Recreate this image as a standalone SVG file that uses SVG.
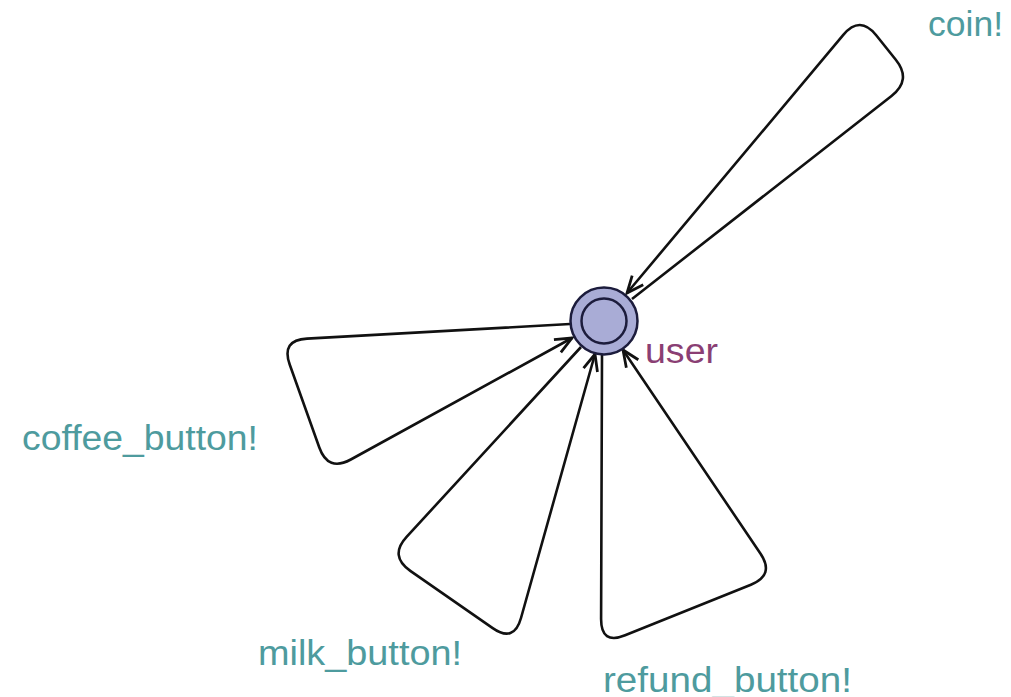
<svg xmlns="http://www.w3.org/2000/svg" width="1011" height="697" viewBox="0 0 1011 697">
<style>
.edge{fill:none;stroke:#111;stroke-width:2.6;stroke-linejoin:round;marker-end:url(#arr)}
.lbl{font-family:"Liberation Sans",Arial,sans-serif;font-size:35px;fill:#4e9b9e}
.loc{fill:#a9acd6;stroke:#1c1c3c;stroke-width:2.5}
.name{font-family:"Liberation Sans",Arial,sans-serif;font-size:35px;fill:#8a3f74}
</style>
<defs>
<marker id="arr" markerUnits="userSpaceOnUse" markerWidth="20" markerHeight="20" viewBox="-16 -8 18 16" refX="0" refY="0" orient="auto">
<path d="M -15,-6.5 L 0,0 L -15,6.5" fill="none" stroke="#111" stroke-width="2.5" stroke-linejoin="miter"/>
</marker>
</defs>
<rect width="1011" height="697" fill="#fff"/>
<g id="connectors">
<path class="edge" d="M 632,299 L 891.5,96 Q 912,80 895.8,59.7 L 876.2,35.3 Q 860,15 843.3,34.9 L 627,293"/>
<path class="edge" d="M 570,324 L 307,338.6 Q 281,340 289.7,364.5 L 319.3,447.5 Q 328,472 350.8,459.5 L 572,338"/>
<path class="edge" d="M 581,347 L 406.6,536.9 Q 389,556 410.3,570.9 L 492.7,628.1 Q 514,643 521,618 L 595,354"/>
<path class="edge" d="M 602,355 L 601.1,619 Q 601,645 625.1,635.3 L 750.9,584.7 Q 775,575 760.4,553.5 L 623,350"/>
</g>
<g id="user">
<circle class="loc" cx="604" cy="321" r="33.5"/>
<circle class="loc" cx="604" cy="321" r="22.5"/>
<text class="name" x="645" y="363" textLength="73" lengthAdjust="spacingAndGlyphs">user</text>
</g>
<g id="labels">
<text class="lbl" x="928" y="36" textLength="75" lengthAdjust="spacingAndGlyphs">coin!</text>
<text class="lbl" x="22" y="450" textLength="236" lengthAdjust="spacingAndGlyphs">coffee_button!</text>
<text class="lbl" x="258" y="665" textLength="204" lengthAdjust="spacingAndGlyphs">milk_button!</text>
<text class="lbl" x="603" y="692" textLength="249" lengthAdjust="spacingAndGlyphs">refund_button!</text>
</g>
</svg>
